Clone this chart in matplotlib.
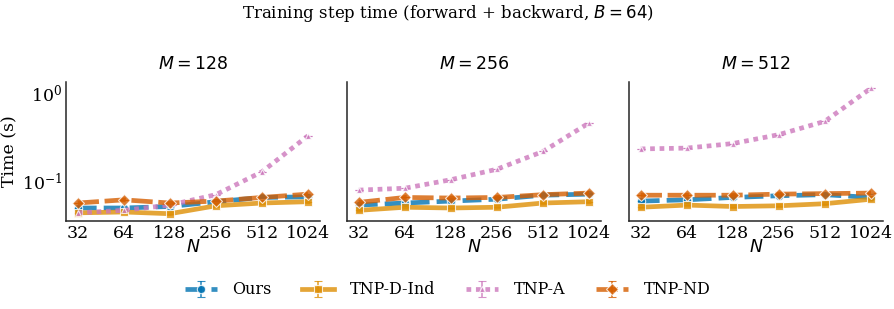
import matplotlib
matplotlib.use("Agg")
import matplotlib.pyplot as plt
import numpy as np
from matplotlib.ticker import FixedLocator, FixedFormatter, NullLocator

N = [32, 64, 128, 256, 512, 1024]
M_values = [128, 256, 512]
methods = ["Ours", "TNP-D-Ind", "TNP-A", "TNP-ND"]

# Time (s) per method per M panel
times = {
    128: {
        "Ours":      [0.051, 0.051, 0.053, 0.060, 0.067, 0.068],
        "TNP-D-Ind": [0.045, 0.046, 0.044, 0.054, 0.058, 0.060],
        "TNP-A":     [0.045, 0.048, 0.055, 0.072, 0.130, 0.330],
        "TNP-ND":    [0.058, 0.063, 0.058, 0.061, 0.067, 0.073],
    },
    256: {
        "Ours":      [0.055, 0.058, 0.061, 0.064, 0.071, 0.073],
        "TNP-D-Ind": [0.048, 0.052, 0.051, 0.052, 0.058, 0.060],
        "TNP-A":     [0.081, 0.085, 0.106, 0.139, 0.220, 0.460],
        "TNP-ND":    [0.059, 0.067, 0.066, 0.067, 0.072, 0.075],
    },
    512: {
        "Ours":      [0.061, 0.063, 0.067, 0.070, 0.072, 0.067],
        "TNP-D-Ind": [0.052, 0.055, 0.053, 0.054, 0.057, 0.064],
        "TNP-A":     [0.235, 0.240, 0.270, 0.340, 0.480, 1.130],
        "TNP-ND":    [0.071, 0.071, 0.071, 0.073, 0.074, 0.075],
    },
}

colors = {"Ours": "#0173b2", "TNP-D-Ind": "#de8f05", "TNP-A": "#cc78bc", "TNP-ND": "#d55e00"}
markers = {"Ours": "o", "TNP-D-Ind": "s", "TNP-A": "^", "TNP-ND": "D"}
msizes = {"Ours": 6, "TNP-D-Ind": 6, "TNP-A": 5, "TNP-ND": 6.5}
dashes = {"Ours": (4, 1.5), "TNP-D-Ind": (), "TNP-A": (1, 1), "TNP-ND": (4.5, 1.2)}

plt.rcParams["font.family"] = "DejaVu Serif"
plt.rcParams["mathtext.fontset"] = "dejavusans"

fig = plt.figure(figsize=(8.95, 3.09), dpi=100)
lefts = [0.074, 0.388, 0.703]
width = 0.284
bottom, top = 0.285, 0.735
axes = []
for i, M in enumerate(M_values):
    ax = fig.add_axes([lefts[i], bottom, width, top - bottom])
    axes.append(ax)
    handles = []
    for m in methods:
        y = times[M][m]
        cont = ax.errorbar(N, y, yerr=np.zeros(len(y)), color=colors[m], marker=markers[m],
                           markersize=msizes[m], markeredgecolor="white", markeredgewidth=0.8,
                           linewidth=3.4, capsize=3, elinewidth=1.2, alpha=0.8, label=m)
        ln = cont.lines[0]
        if dashes[m]:
            ln.set_dashes(dashes[m])
        handles.append(cont)
    ax.set_xscale("log", base=2)
    ax.set_yscale("log")
    ax.set_ylim(0.0365, 1.33)
    ax.set_xlim(32 / 2**0.25, 1024 * 2**0.27)
    ax.xaxis.set_major_locator(FixedLocator(N))
    ax.xaxis.set_major_formatter(FixedFormatter([str(n) for n in N]))
    ax.xaxis.set_minor_locator(NullLocator())
    ax.yaxis.set_minor_locator(NullLocator())
    ax.tick_params(axis="both", length=0, labelsize=12.5, pad=3)
    for s in ["top", "right"]:
        ax.spines[s].set_visible(False)
    for s in ["left", "bottom"]:
        ax.spines[s].set_linewidth(1.1)
        ax.spines[s].set_color("#262626")
    ax.set_title(r"$M=%d$" % M, fontsize=12.5, pad=9)
    ax.set_xlabel(r"$N$", fontsize=12.5, labelpad=-2)
    ax.yaxis.set_major_locator(FixedLocator([0.1, 1.0]))
    if i == 0:
        ax.set_ylabel("Time (s)", fontsize=12.5, labelpad=2)
    else:
        ax.set_yticklabels([])

fig.suptitle(r"Training step time (forward + backward, $B=64$)", fontsize=12, y=0.99)
fig.legend(handles, methods, loc="center", bbox_to_anchor=(0.5, 0.062), ncol=4,
           frameon=False, fontsize=11.5, handlelength=2.0, columnspacing=1.9,
           handletextpad=1.0)

fig.savefig("out.png", dpi=100)
